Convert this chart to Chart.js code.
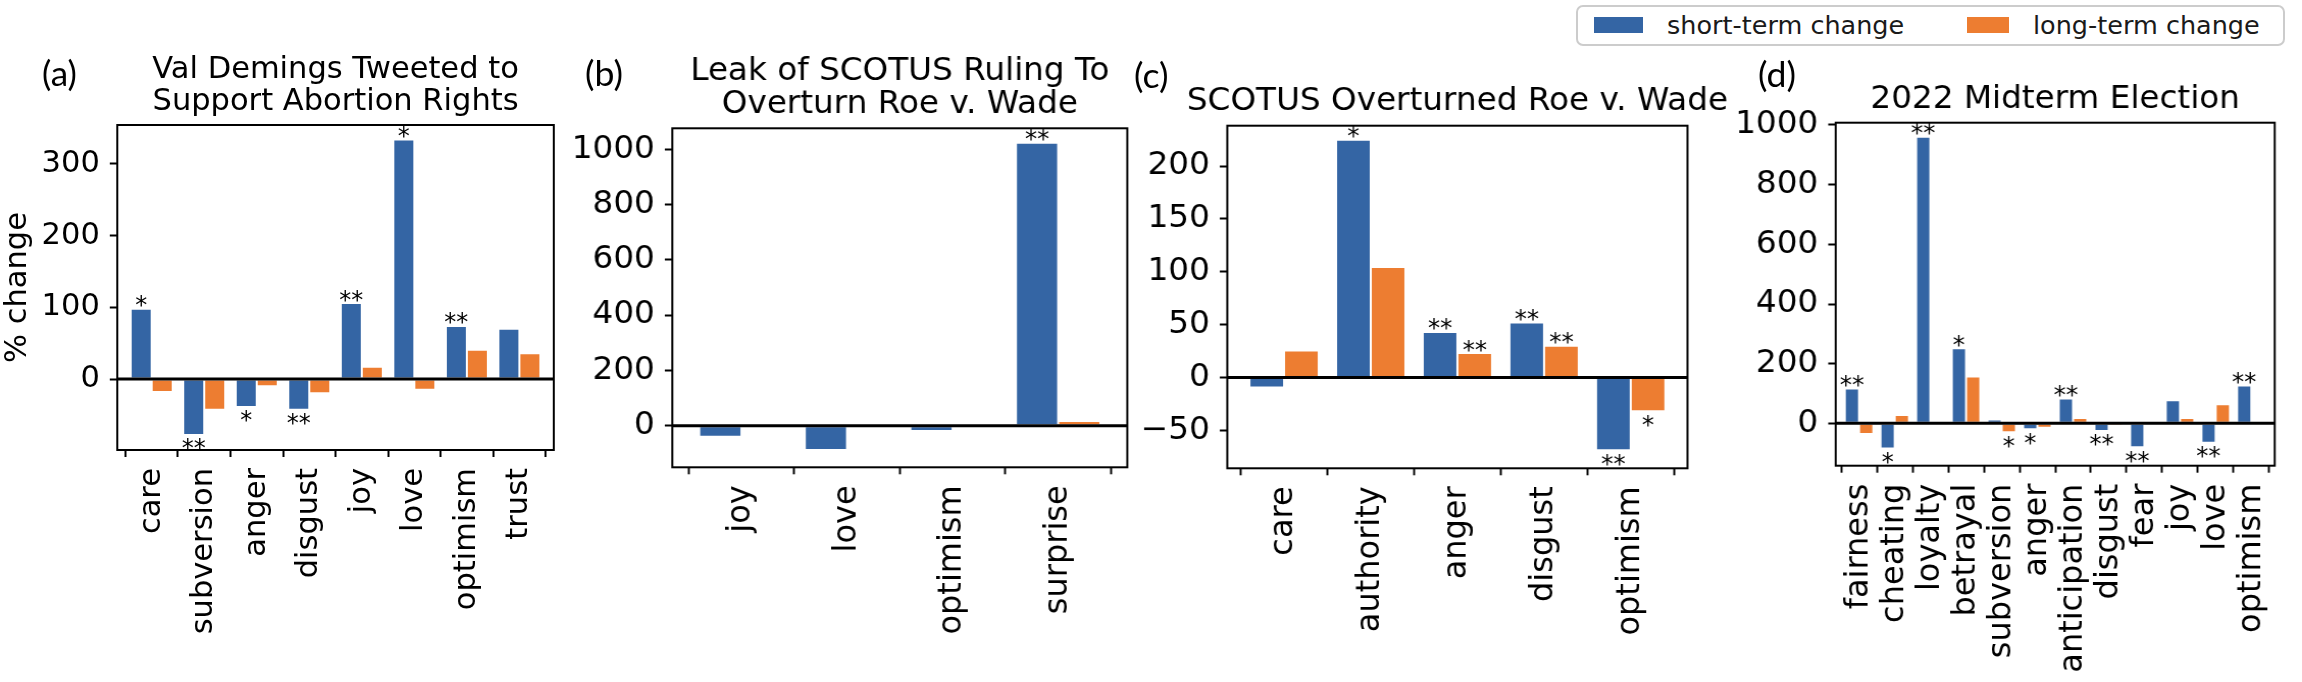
<!DOCTYPE html>
<html>
<head>
<meta charset="utf-8">
<title>Short- and long-term change in moral and emotional language</title>
<script src="https://cdn.jsdelivr.net/npm/chart.js@4.4.1/dist/chart.umd.min.js"></script>
<style>
  html, body { margin: 0; padding: 0; background: #fff; }
  body { width: 2302px; height: 682px; position: relative; overflow: hidden; font-family: 'DejaVu Sans', sans-serif; }
  .panel { position: absolute; top: 0; height: 682px; transform-origin: 0 0; }
  .panel canvas { position: absolute; left: 0; top: 0; }
  .tag { position: absolute; font-family: Lato, 'DejaVu Sans', sans-serif; font-size: 35px; line-height: 40px; color: #000; white-space: nowrap; }
  #legend { position: absolute; left: 1576px; top: 5px; width: 709px; height: 41px; box-sizing: border-box;
            border: 2px solid #cccccc; border-radius: 7px; background: #fff; }
  .swatch { position: absolute; top: 10px; height: 16px; }
  .ltext { position: absolute; top: 3.6px; font-size: 25px; line-height: 30px; color: #1a1a1a;
           transform: scaleX(1.02); transform-origin: 0 0; white-space: nowrap; }
</style>
</head>
<body>
<div id="legend"></div>
<script>
'use strict';

// ─── DATA ────────────────────────────────────────────────────────────────────
const seriesNames = ['short-term change', 'long-term change'];

// (a) Val Demings tweet
const titleA = ['Val Demings Tweeted to', 'Support Abortion Rights'];
const catsA = ['care', 'subversion', 'anger', 'disgust', 'joy', 'love', 'optimism', 'trust'];
const shortA = [98, -78, -39, -43, 106, 334, 74, 70];
const longA = [-18, -43, -10, -20, 17, -15, 41, 36];
const starsShortA = ['*', '**', '*', '**', '**', '*', '**', ''];
const starsLongA = ['', '', '', '', '', '', '', ''];
const ticksA = [0, 100, 200, 300];

// (b) leak of the ruling
const titleB = ['Leak of SCOTUS Ruling To', 'Overturn Roe v. Wade'];
const catsB = ['joy', 'love', 'optimism', 'surprise'];
const shortB = [-40, -88, -19, 1024];
const longB = [0, -8, 0, 17];
const starsShortB = ['', '', '', '**'];
const starsLongB = ['', '', '', ''];
const ticksB = [0, 200, 400, 600, 800, 1000];

// (c) ruling
const titleC = ['SCOTUS Overturned Roe v. Wade'];
const catsC = ['care', 'authority', 'anger', 'disgust', 'optimism'];
const shortC = [-9.5, 225, 43, 52, -69];
const longC = [25.5, 104.5, 23, 30, -32];
const starsShortC = ['', '*', '**', '**', '**'];
const starsLongC = ['', '', '**', '**', '*'];
const ticksC = [-50, 0, 50, 100, 150, 200];

// (d) midterms
const titleD = ['2022 Midterm Election'];
const catsD = ['fairness', 'cheating', 'loyalty', 'betrayal', 'subversion', 'anger',
               'anticipation', 'disgust', 'fear', 'joy', 'love', 'optimism'];
const shortD = [117, -84, 961, 252, 13, -20, 83, -26, -80, 77, -65, 127];
const longD = [-36, 28, 8, 157, -30, -15, 18, -9, 0, 18, 64, 0];
const starsShortD = ['**', '*', '**', '*', '', '*', '**', '**', '**', '', '**', '**'];
const starsLongD = ['', '', '', '', '*', '', '', '', '', '', '', ''];
const ticksD = [0, 200, 400, 600, 800, 1000];

// ─── STYLE ───────────────────────────────────────────────────────────────────
const FONT = "'DejaVu Sans'";
const BLUE = '#3465a4';
const ORANGE = '#ed7d31';
const H = 682;
const LINE = 32.5;      // title line height
const MARGIN = 0.655;   // x padding in category units

// page geometry of each panel (box = plot frame: left, top, right, bottom)
const panels = [
  { tag: '(a)', tagX: 42, tagY: 72, x0: 0, x1: 570, sx: 1.0, fs: 30.5, box: [117.3, 125.0, 553.8, 450.0],
    titleY: 70, title: titleA, cats: catsA, short: shortA, long: longA,
    starsS: starsShortA, starsL: starsLongA, yMin: -99, yMax: 354.4, yTicks: ticksA, yTitle: '% change' },
  { tag: '(b)', tagX: 585, tagY: 72, x0: 570, x1: 1132, sx: 1.02, fs: 32, box: [672.3, 128.3, 1127.3, 467.3],
    titleY: 71.8, title: titleB, cats: catsB, short: shortB, long: longB,
    starsS: starsShortB, starsL: starsLongB, yMin: -150.5, yMax: 1076, yTicks: ticksB },
  { tag: '(c)', tagX: 1134, tagY: 74, x0: 1132, x1: 1737, sx: 1.02, fs: 32, box: [1227.3, 125.7, 1687.5, 468.3],
    titleY: 101.5, title: titleC, cats: catsC, short: shortC, long: longC,
    starsS: starsShortC, starsL: starsLongC, yMin: -86, yMax: 238.2, yTicks: ticksC },
  { tag: '(d)', tagX: 1758, tagY: 73.3, x0: 1737, x1: 2302, sx: 1.02, fs: 32, box: [1835.7, 122.7, 2296.7, 465.7],
    titleY: 99.2, title: titleD, cats: catsD, short: shortD, long: longD,
    starsS: starsShortD, starsL: starsLongD, yMin: -142, yMax: 1007.7, yTicks: ticksD }
];

// title, zero line, frame and significance stars
const decorations = {
  id: 'decorations',
  afterDatasetsDraw(chart, args, opts) {
    const { ctx, chartArea: a } = chart;
    const y0 = chart.scales.y.getPixelForValue(0);
    ctx.save();
    ctx.strokeStyle = '#000';
    ctx.lineWidth = 3;
    ctx.beginPath(); ctx.moveTo(a.left, y0); ctx.lineTo(a.right, y0); ctx.stroke();
    ctx.lineWidth = 2;
    ctx.strokeRect(a.left, a.top, a.width, a.height);

    // panel title, centred over the plot frame
    ctx.fillStyle = '#000';
    ctx.textAlign = 'center';
    ctx.textBaseline = 'middle';
    ctx.font = `${opts.fs}px ${FONT}`;
    opts.title.forEach((line, i) => ctx.fillText(line, (a.left + a.right) / 2, opts.titleY + i * LINE));

    ctx.font = `24px ${FONT}`;
    ctx.textBaseline = 'alphabetic';
    const m = ctx.measureText('*');
    const asc = m.actualBoundingBoxAscent, desc = m.actualBoundingBoxDescent;
    chart.data.datasets.forEach((ds, di) => {
      const meta = chart.getDatasetMeta(di);
      meta.data.forEach((bar, i) => {
        const mark = ds.stars[i];
        if (!mark) return;
        const y = ds.data[i].y >= 0 ? bar.y - 1.5 - desc : bar.y + 3.3 + asc;
        ctx.fillText(mark, bar.x, y);
      });
    });
    ctx.restore();
  }
};

function fmtTick(v) {
  return v < 0 ? '\u2212' + Math.abs(v) : String(v);
}

function buildPanel(p) {
  const cw = Math.round((p.x1 - p.x0) / p.sx);
  const sx = (p.x1 - p.x0) / cw;
  const ix = v => (v - p.x0) / sx;

  const wrap = document.createElement('div');
  wrap.className = 'panel';
  wrap.style.left = p.x0 + 'px';
  wrap.style.width = cw + 'px';
  wrap.style.transform = `scaleX(${sx})`;
  document.body.appendChild(wrap);

  const cv = document.createElement('canvas');
  cv.width = cw; cv.height = H;
  wrap.appendChild(cv);

  const tag = document.createElement('div');
  tag.className = 'tag';
  tag.textContent = p.tag;
  tag.style.left = ix(p.tagX) + 'px';
  tag.style.top = (p.tagY - 20) + 'px';
  wrap.appendChild(tag);

  const n = p.cats.length;
  const font = { family: FONT, size: p.fs };

  new Chart(cv, {
    type: 'bar',
    data: {
      datasets: [
        { label: seriesNames[0], data: p.short.map((v, i) => ({ x: i, y: v })), stars: p.starsS,
          backgroundColor: BLUE, borderColor: 'rgba(255,255,255,0.45)', borderWidth: 1, borderSkipped: false },
        { label: seriesNames[1], data: p.long.map((v, i) => ({ x: i, y: v })), stars: p.starsL,
          backgroundColor: ORANGE, borderColor: 'rgba(255,255,255,0.45)', borderWidth: 1, borderSkipped: false }
      ]
    },
    options: {
      responsive: false,
      animation: false,
      devicePixelRatio: 1,
      categoryPercentage: 0.8,
      barPercentage: 1,
      layout: { padding: { left: 0, right: cw - ix(p.box[2]), top: p.box[1], bottom: 0 } },
      plugins: {
        legend: { display: false },
        tooltip: { enabled: false },
        decorations: { title: p.title, titleY: p.titleY, fs: p.fs }
      },
      scales: {
        x: {
          type: 'linear', min: -MARGIN, max: n - 1 + MARGIN, offset: false,
          afterBuildTicks: s => { s.ticks = p.cats.map((c, i) => ({ value: i })); },
          afterFit: s => { s.height = H - p.box[3]; },
          ticks: {
            autoSkip: false, minRotation: 90, maxRotation: 90, padding: 11, color: '#000', font,
            callback: v => p.cats[v]
          },
          grid: { drawOnChartArea: false, drawTicks: true, tickLength: 7, tickWidth: 2 / sx, tickColor: '#000' },
          border: { display: false }
        },
        y: {
          min: p.yMin, max: p.yMax,
          afterBuildTicks: s => { s.ticks = p.yTicks.map(v => ({ value: v })); },
          afterFit: s => { s.width = ix(p.box[0]); },
          ticks: { padding: 10 / sx, color: '#000', font, callback: v => fmtTick(v) },
          grid: { drawOnChartArea: false, drawTicks: true, tickLength: 7.5 / sx, tickWidth: 2, tickColor: '#000' },
          border: { display: false },
          title: {
            display: !!p.yTitle, text: p.yTitle || '', color: '#000',
            font, padding: { top: 0, bottom: 0 }
          }
        }
      }
    },
    plugins: [decorations]
  });
}

panels.forEach(buildPanel);

// ─── LEGEND ──────────────────────────────────────────────────────────────────
const legend = document.getElementById('legend');
const legendItems = [
  { name: seriesNames[0], color: BLUE, sw: 16, swW: 49, tx: 88.7 },
  { name: seriesNames[1], color: ORANGE, sw: 389.3, swW: 42, tx: 454.7 }
];
legendItems.forEach(it => {
  const s = document.createElement('div');
  s.className = 'swatch';
  s.style.left = it.sw + 'px';
  s.style.width = it.swW + 'px';
  s.style.background = it.color;
  legend.appendChild(s);
  const t = document.createElement('div');
  t.className = 'ltext';
  t.style.left = it.tx + 'px';
  t.textContent = it.name;
  legend.appendChild(t);
});
</script>
</body>
</html>
